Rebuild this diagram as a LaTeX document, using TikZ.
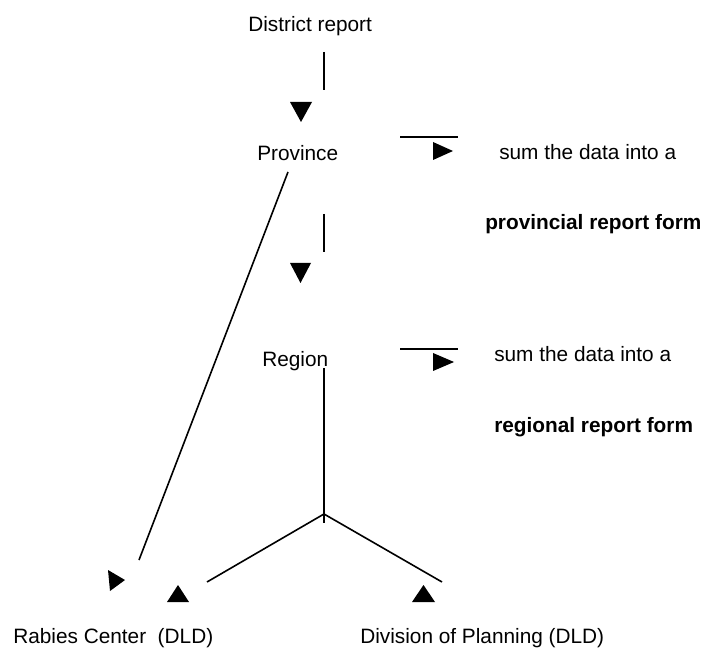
\documentclass[tikz,border=0pt]{standalone}
\usepackage{fontspec}
\setmainfont{Liberation Sans}
\tikzset{
  lbl/.style={anchor=base west,inner sep=0pt,font=\fontsize{15.6}{18}\selectfont},
  lblb/.style={lbl,font=\fontsize{15.6}{18}\selectfont\bfseries},
  ln/.style={line width=1.2pt},
  tri/.style={fill=black}
}
\begin{document}
\begin{tikzpicture}[x=0.75pt,y=-0.75pt]
	\useasboundingbox (0,0) rectangle (707,648);
	% texts
	\node[lbl] (district) at (248,32) {District report};
	\node[lbl] (province) at (257,161) {Province};
	\node[lbl] (region) at (262,367) {Region};
	\node[lbl] (sumprov) at (499,160) {sum the data into a};
	\node[lblb] (provform) at (485,230) {provincial report form};
	\node[lbl] (sumreg) at (494,362) {sum the data into a};
	\node[lblb] (regform) at (494,433) {regional report form};
	\node[lbl] (rabies) at (13,643) {Rabies Center\ \ (DLD)};
	\node[lbl] (planning) at (360,643) {Division of Planning (DLD)};
	% line ends
	\coordinate (d1) at (324,52);  \coordinate (d2) at (324,90);
	\coordinate (p1) at (324,214); \coordinate (p2) at (324,252);
	\coordinate (ps1) at (400,137); \coordinate (ps2) at (458,137);
	\coordinate (rs1) at (400,349); \coordinate (rs2) at (458,349);
	\coordinate (pr1) at (288,172); \coordinate (pr2) at (139,560);
	\coordinate (r1) at (324,368); \coordinate (r2) at (324,523);
	\coordinate (fork) at (324,514);
	\coordinate (lend) at (207,582); \coordinate (rend) at (442,582);
	\draw[ln] (d1) -- (d2);
	\draw[ln] (p1) -- (p2);
	\draw[ln] (ps1) -- (ps2);
	\draw[ln] (rs1) -- (rs2);
	\draw[ln] (pr1) -- (pr2);
	\draw[ln] (r1) -- (r2);
	\draw[ln] (lend) -- (fork) -- (rend);
	% arrow heads
	\fill[tri] (290,102) -- (312,102) -- (301,122) -- cycle;
	\fill[tri] (290,263) -- (311,263) -- (300.5,283) -- cycle;
	\fill[tri] (433,142) -- (433,160) -- (453,151) -- cycle;
	\fill[tri] (433,353) -- (433,371) -- (454,362) -- cycle;
	\fill[tri] (108,570) -- (110,591) -- (125,580) -- cycle;
	\fill[tri] (167,602) -- (189,602) -- (178,585) -- cycle;
	\fill[tri] (412,602) -- (435,602) -- (423.5,585) -- cycle;
\end{tikzpicture}
\end{document}
